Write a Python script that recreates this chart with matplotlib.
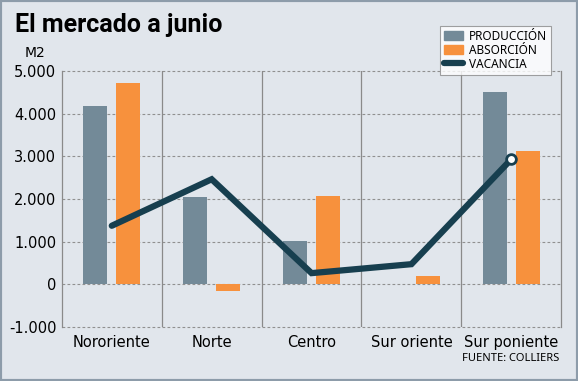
import matplotlib.pyplot as plt
import numpy as np
from matplotlib.lines import Line2D
from matplotlib.patches import Patch

categorias = ['Nororiente', 'Norte', 'Centro', 'Sur oriente', 'Sur poniente']
produccion = [4180, 2040, 1010, 0, 4510]
absorcion = [4720, -160, 2070, 190, 3120]
vacancia = [1370, 2460, 260, 470, 2930]
yticks = [-1000, 0, 1000, 2000, 3000, 4000, 5000]
ylabels = ['-1.000', '0', '1.000', '2.000', '3.000', '4.000', '5.000']

fondo = '#e1e6ec'
c_prod = '#738a98'
c_abs = '#f7913d'
c_vac = '#173f4f'

fig = plt.figure(figsize=(5.78, 3.81), dpi=100, facecolor=fondo)
ax = fig.add_axes([0.107, 0.142, 0.864, 0.672])
ax.set_facecolor(fondo)

x = np.arange(len(categorias))
w = 0.24
ax.bar(x - 0.165, produccion, w, color=c_prod, zorder=3)
ax.bar(x + 0.165, absorcion, w, color=c_abs, zorder=3)
ax.plot(x, vacancia, color=c_vac, linewidth=4.5, solid_capstyle='round',
        solid_joinstyle='miter', zorder=4)
ax.plot(x[-1], vacancia[-1], 'o', markersize=7, markerfacecolor='white',
        markeredgecolor=c_vac, markeredgewidth=2, zorder=5)

ax.set_xlim(-0.5, len(categorias) - 0.5)
ax.set_ylim(-1000, 5000)
ax.set_yticks(yticks)
ax.set_yticklabels(ylabels, fontsize=10.5)
ax.set_xticks(x)
ax.set_xticklabels(categorias, fontsize=10.5)
ax.tick_params(length=0, pad=4)
ax.tick_params(axis='x', pad=6)

for v in yticks:
    ax.axhline(v, color='#909090', linestyle=(0, (2.5, 2)), linewidth=0.8,
               zorder=1, clip_on=False)
for v in x[:-1] + 0.5:
    ax.axvline(v, color='#8a8a8a', linewidth=0.9, zorder=1)
for s in ['top', 'bottom']:
    ax.spines[s].set_visible(False)
for s in ['left', 'right']:
    ax.spines[s].set_color('#8a8a8a')
    ax.spines[s].set_linewidth(0.9)

fig.text(0.026, 0.935, 'El mercado a junio', fontsize=18, fontweight='bold',
         family='Roboto', va='center', ha='left')
fig.text(0.043, 0.862, 'M2', fontsize=10, va='center', ha='left')
fig.text(0.968, 0.058, 'FUENTE: COLLIERS', fontsize=8, family='Noto Sans',
         va='center', ha='right')

handles = [Patch(color=c_prod), Patch(color=c_abs),
           Line2D([0], [0], color=c_vac, linewidth=4.5, solid_capstyle='round')]
leg = ax.legend(handles, ['PRODUCCIÓN', 'ABSORCIÓN', 'VACANCIA'],
                loc='upper right', bbox_to_anchor=(0.992, 1.2),
                prop={'family': 'Noto Sans', 'size': 8.5},
                frameon=True, fancybox=False, handlelength=1.6,
                handleheight=0.8, labelspacing=0.08, borderpad=0.35,
                handletextpad=0.5)
leg.get_frame().set_edgecolor('#8a8a8a')
leg.get_frame().set_linewidth(0.8)
leg.get_frame().set_facecolor('white')
leg.set_zorder(10)

# marco exterior
fig.add_artist(plt.Rectangle((0, 0), 1, 1, transform=fig.transFigure,
                             fill=False, edgecolor='#8d9caa', linewidth=3))

fig.savefig('out.png', dpi=100, facecolor=fondo)
